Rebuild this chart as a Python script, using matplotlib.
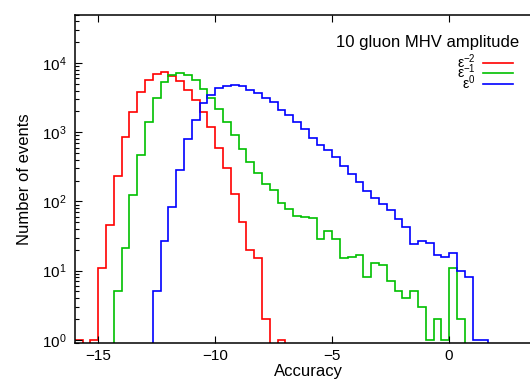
#Accuracy histograms of the 10 gluon MHV amplitude, eps^-2, eps^-1 and eps^0 parts

import numpy as np
import matplotlib.pyplot as plt

plt.rcParams['font.family'] = ['Liberation Sans', 'DejaVu Sans']
plt.rcParams['mathtext.default'] = 'regular'

# histogram bins: start at -16, width 1/3
bin_start = -16.0
bin_width = 1.0/3.0

counts_m2 = [1, 0, 1, 11, 46, 230, 850, 1960, 3800, 5770, 7020, 7450, 6570, 5440,
             4090, 2890, 1960, 1190, 583, 303, 129, 51, 20, 15, 2, 0, 1, 0]

counts_m1 = [0, 0, 0, 0, 0, 5, 21, 124, 472, 1400, 3130, 5260, 6640, 7190, 6750,
             5770, 4220, 3130, 2190, 1390, 900, 577, 378, 262, 176, 147, 94, 78,
             62, 60, 57, 29, 37, 29, 15, 16, 17, 8, 13, 12, 7, 5, 4, 5, 3, 1, 2,
             1, 11, 2, 0]

counts_0 = [0, 0, 0, 0, 0, 0, 0, 0, 0, 0, 5, 27, 84, 286, 795, 1520, 2650, 3410,
            4360, 4710, 4820, 4600, 4030, 3690, 3130, 2740, 2120, 1770, 1400, 1125,
            840, 645, 558, 438, 327, 248, 190, 142, 112, 91, 76, 55, 43, 24, 27,
            25, 17, 16, 18, 10, 8, 1, 1, 0]

labels = ['ε$^{-2}$', 'ε$^{-1}$', 'ε$^{0}$']
colors = ['#ff0000', '#00c000', '#0000ff']
title = '10 gluon MHV amplitude'

fig = plt.figure(figsize=(5.3, 3.81), dpi=100)
ax = fig.add_axes([0.141, 0.0997, 0.883, 0.8617])

for counts, lab, col in zip([counts_m2, counts_m1, counts_0], labels, colors):
    c = np.array(counts, dtype=float)
    edges = bin_start + bin_width*np.arange(len(c)+1)
    c = np.where(c > 0, c, 1e-3)   # empty bins fall below the axis
    ax.stairs(c, edges, baseline=None, color=col, linewidth=1.2, label=lab)

ax.set_yscale('log')
ax.set_xlim(-16, 4)
ax.set_ylim(0.9, 5e4)
ax.set_xticks([-15, -10, -5, 0])
ax.tick_params(which='both', direction='in', top=True, right=True, labelsize=11)
ax.tick_params(which='major', length=5, width=0.8)
ax.tick_params(which='minor', length=3, width=0.8)
ax.tick_params(axis='y', pad=6)
ax.tick_params(axis='x', pad=4)
for s in ax.spines.values():
    s.set_linewidth(1.1)

ax.set_xlabel('Accuracy', fontsize=12, labelpad=1)
ax.set_ylabel('Number of events', fontsize=12, labelpad=7)

ax.text(0.949, 0.902, title, transform=ax.transAxes, ha='right', va='baseline',
        fontsize=12)
leg = ax.legend(fontsize=10, frameon=False, markerfirst=False,
                loc='upper right', bbox_to_anchor=(0.937, 0.885),
                labelspacing=-0.6, handlelength=2.2, handletextpad=0.5,
                borderaxespad=0., borderpad=0.)

plt.savefig('out.png', dpi=100)
